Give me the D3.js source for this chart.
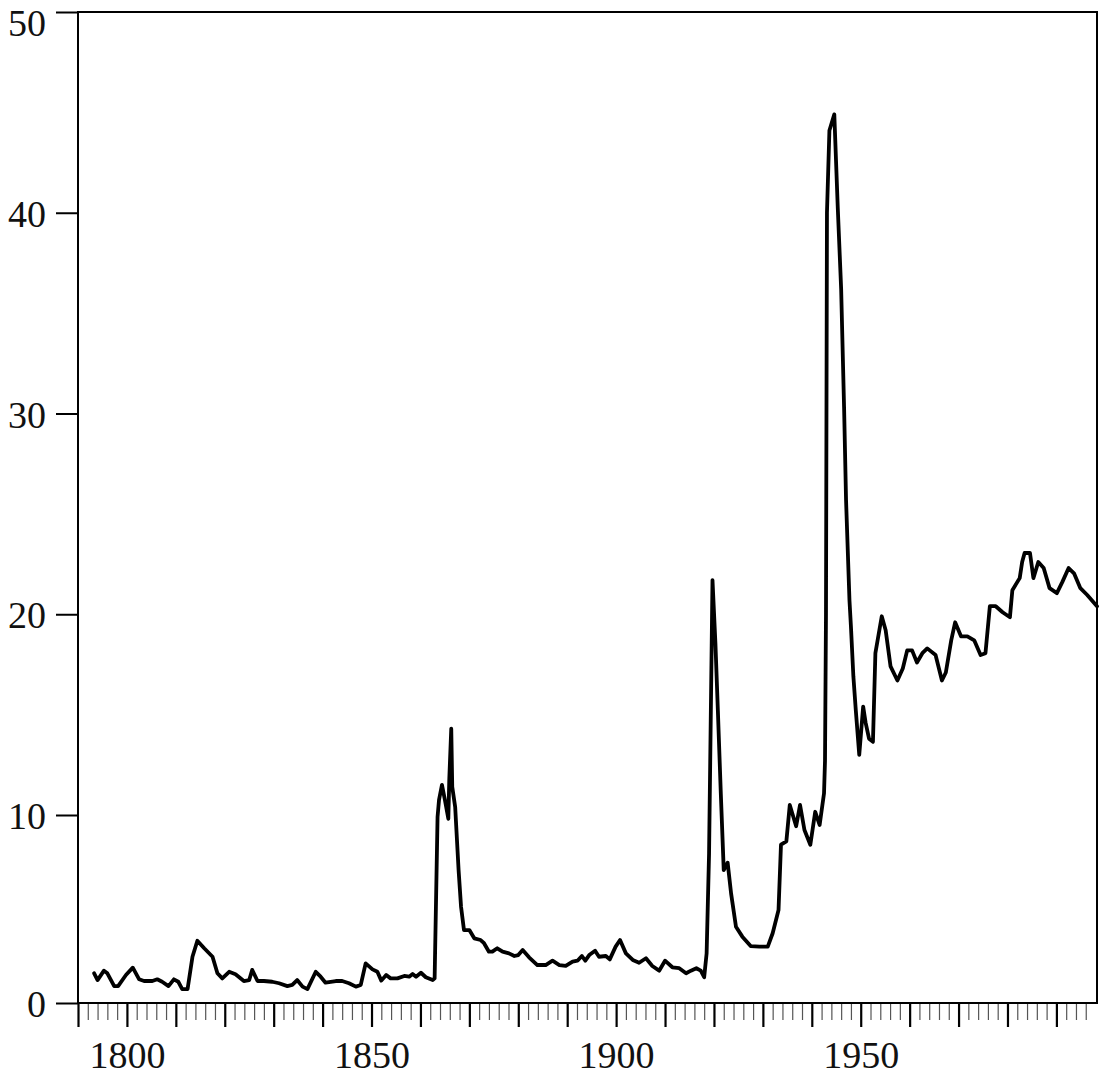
<!DOCTYPE html>
<html lang="en">
<head>
    <meta charset="UTF-8">
    <title>Long-run series, 1790-1998</title>
    <style>
        body {
            margin: 0;
            padding: 0;
            background-color: #ffffff;
        }
        svg {
            display: block;
            background-color: white;
        }
        .tick text {
            font-family: "Liberation Serif", "DejaVu Serif", serif;
            font-size: 38px;
            fill: #111;
        }
    </style>
</head>
<body>
    <svg width="1100" height="1075"></svg>

    <script src="https://d3js.org/d3.v7.min.js"></script>

    <script>
        // Values (year, level)
        const years = [
            1793.3, 1794.0, 1795.3, 1796.0, 1797.4, 1798.2, 1799.8, 1801.2, 1802.5, 1803.5,
            1805.2, 1806.2, 1807.2, 1808.5, 1809.6, 1810.5, 1811.3, 1812.4, 1813.4, 1814.4,
            1815.8, 1817.5, 1818.5, 1819.5, 1820.9, 1822.2, 1823.9, 1825.0, 1825.6, 1826.7,
            1828.0, 1829.7, 1831.1, 1832.8, 1833.8, 1834.8, 1835.9, 1836.9, 1838.6, 1839.6,
            1840.6, 1842.7, 1844.0, 1845.4, 1846.8, 1847.8, 1848.8, 1850.2, 1851.2, 1852.0,
            1853.0, 1853.9, 1855.3, 1856.7, 1857.7, 1858.4, 1859.1, 1860.1, 1861.1, 1862.5,
            1862.9, 1863.5, 1863.8, 1864.4, 1865.0, 1865.7, 1865.9, 1866.3, 1866.5, 1867.1,
            1867.8, 1868.3, 1868.9, 1870.0, 1871.0, 1872.3, 1873.0, 1874.0, 1874.7, 1875.7,
            1876.8, 1878.1, 1879.2, 1880.0, 1880.9, 1882.2, 1883.9, 1885.6, 1887.0, 1888.4,
            1889.7, 1891.1, 1892.1, 1893.0, 1893.7, 1894.5, 1895.7, 1896.5, 1897.9, 1898.7,
            1899.9, 1900.8, 1902.0, 1903.4, 1904.7, 1906.1, 1907.4, 1908.8, 1910.0, 1911.5,
            1912.9, 1914.3, 1915.3, 1916.4, 1917.3, 1918.0, 1918.5, 1919.0, 1919.7, 1920.3,
            1920.8, 1921.4, 1922.0, 1922.8, 1923.5, 1924.5, 1925.8, 1927.5, 1929.3, 1931.0,
            1932.0, 1933.2, 1933.7, 1934.8, 1935.5, 1936.8, 1937.6, 1938.5, 1939.7, 1940.7,
            1941.6, 1942.5, 1942.7, 1942.9, 1943.1, 1943.6, 1944.6, 1945.3, 1946.0, 1946.6,
            1947.0, 1947.7, 1948.0, 1948.5, 1949.0, 1949.7, 1950.5, 1951.0, 1951.7, 1952.5,
            1953.0, 1954.3, 1955.1, 1956.1, 1957.5, 1958.6, 1959.5, 1960.5, 1961.5, 1962.6,
            1963.6, 1965.3, 1966.6, 1967.4, 1968.5, 1969.3, 1970.5, 1971.8, 1973.2, 1974.5,
            1975.5, 1976.4, 1977.6, 1979.0, 1980.5, 1981.0, 1982.5, 1983.0, 1983.5, 1984.6,
            1985.3, 1986.3, 1987.4, 1988.6, 1990.1, 1991.2, 1992.5, 1993.6, 1994.9, 1996.3,
            1998.3
        ];
        const values = [
            1.58, 1.22, 1.72, 1.58, 0.90, 0.90, 1.49, 1.88, 1.26, 1.17,
            1.17, 1.26, 1.13, 0.90, 1.26, 1.13, 0.74, 0.74, 2.46, 3.31,
            2.91, 2.46, 1.58, 1.31, 1.66, 1.53, 1.17, 1.22, 1.76, 1.17,
            1.17, 1.13, 1.05, 0.90, 0.96, 1.22, 0.87, 0.74, 1.66, 1.40,
            1.08, 1.17, 1.17, 1.05, 0.87, 0.96, 2.11, 1.79, 1.66, 1.19,
            1.49, 1.31, 1.31, 1.44, 1.40, 1.54, 1.40, 1.61, 1.37, 1.22,
            1.31, 9.90, 10.75, 11.50, 10.75, 9.80, 11.80, 14.30, 11.40, 10.40,
            7.07, 5.12, 3.88, 3.88, 3.44, 3.35, 3.18, 2.73, 2.73, 2.91,
            2.73, 2.64, 2.50, 2.55, 2.82, 2.43, 2.02, 2.02, 2.25, 2.02,
            1.97, 2.20, 2.25, 2.50, 2.25, 2.55, 2.78, 2.46, 2.50, 2.32,
            3.00, 3.35, 2.64, 2.29, 2.14, 2.38, 1.97, 1.72, 2.25, 1.90,
            1.85, 1.58, 1.72, 1.85, 1.72, 1.37, 2.64, 7.96, 21.70, 18.55,
            15.20, 11.08, 7.07, 7.46, 5.83, 4.06, 3.53, 3.03, 3.00, 3.00,
            3.71, 4.95, 8.42, 8.60, 10.50, 9.40, 10.50, 9.20, 8.42, 10.16,
            9.47, 11.08, 12.70, 20.00, 40.00, 44.10, 44.90, 40.30, 36.20, 30.30,
            25.70, 20.70, 19.40, 16.90, 15.20, 13.00, 15.40, 14.60, 13.80, 13.65,
            18.06, 19.90, 19.20, 17.40, 16.70, 17.30, 18.20, 18.20, 17.60, 18.06,
            18.30, 17.97, 16.70, 17.10, 18.70, 19.60, 18.90, 18.90, 18.70, 17.97,
            18.06, 20.40, 20.40, 20.10, 19.85, 21.20, 21.80, 22.60, 23.05, 23.05,
            21.80, 22.60, 22.30, 21.30, 21.05, 21.60, 22.30, 22.04, 21.30, 20.96,
            20.40
        ];

        // Axis ticks
        const yTicks = [0, 10, 20, 30, 40, 50];
        const xMajorTicks = d3.range(1790, 1991, 10);
        const xMinorTicks = d3.range(1792, 1997, 2).filter(d => d % 10 !== 0);
        const xLabelYears = [1800, 1850, 1900, 1950];

        let width = 1100, height = 1075;
        let plotLeft = 78, plotRight = 1097, plotTop = 12, plotBottom = 1003;

        let svg = d3.select("svg")
            .attr("viewBox", "0 0 " + width + " " + height);

        let x = d3.scaleLinear()
            .domain([1790, 1998.3])
            .range([plotLeft, plotRight]);

        // the printed axis has the 0-10 band a little shorter than the others
        let y = d3.scaleLinear()
            .domain([0, 10, 50])
            .range([plotBottom, 815, plotTop]);

        let data = years.map((yr, i) => ({ year: yr, value: values[i] }));

        // minor year ticks
        let minorAxis = svg.append("g")
            .attr("transform", "translate(0," + plotBottom + ")")
            .call(d3.axisBottom(x).tickValues(xMinorTicks).tickSize(17).tickFormat(""));
        minorAxis.select(".domain").remove();
        minorAxis.selectAll("line")
            .attr("stroke", "#555")
            .attr("stroke-width", 1.2);

        // major year ticks with labels
        let xAxis = svg.append("g")
            .attr("transform", "translate(0," + plotBottom + ")")
            .call(d3.axisBottom(x)
                .tickValues(xMajorTicks)
                .tickSize(24)
                .tickPadding(14)
                .tickFormat(d => xLabelYears.includes(d) ? d : ""));
        xAxis.select(".domain").remove();
        xAxis.selectAll("line").attr("stroke", "#000").attr("stroke-width", 2.2);

        let yAxis = svg.append("g")
            .attr("transform", "translate(" + plotLeft + ",0)")
            .call(d3.axisLeft(y)
                .tickValues(yTicks)
                .tickSize(22)
                .tickPadding(10)
                .tickFormat(d3.format("d")));
        yAxis.select(".domain").remove();
        yAxis.selectAll("line").attr("stroke", "#000").attr("stroke-width", 2);
        // top label sits a bit lower so it stays inside the page
        yAxis.selectAll("text").attr("dy", d => d === 50 ? "0.62em" : "0.36em");

        // frame
        svg.append("rect")
            .attr("x", plotLeft)
            .attr("y", plotTop)
            .attr("width", plotRight - plotLeft)
            .attr("height", plotBottom - plotTop)
            .attr("fill", "none")
            .attr("stroke", "#000")
            .attr("stroke-width", 2);

        // series line
        let line = d3.line()
            .x(d => x(d.year))
            .y(d => y(d.value));

        svg.append("path")
            .datum(data)
            .attr("d", line)
            .attr("fill", "none")
            .attr("stroke", "#000")
            .attr("stroke-width", 3.8)
            .attr("stroke-linejoin", "round")
            .attr("stroke-linecap", "round");
    </script>
</body>
</html>
